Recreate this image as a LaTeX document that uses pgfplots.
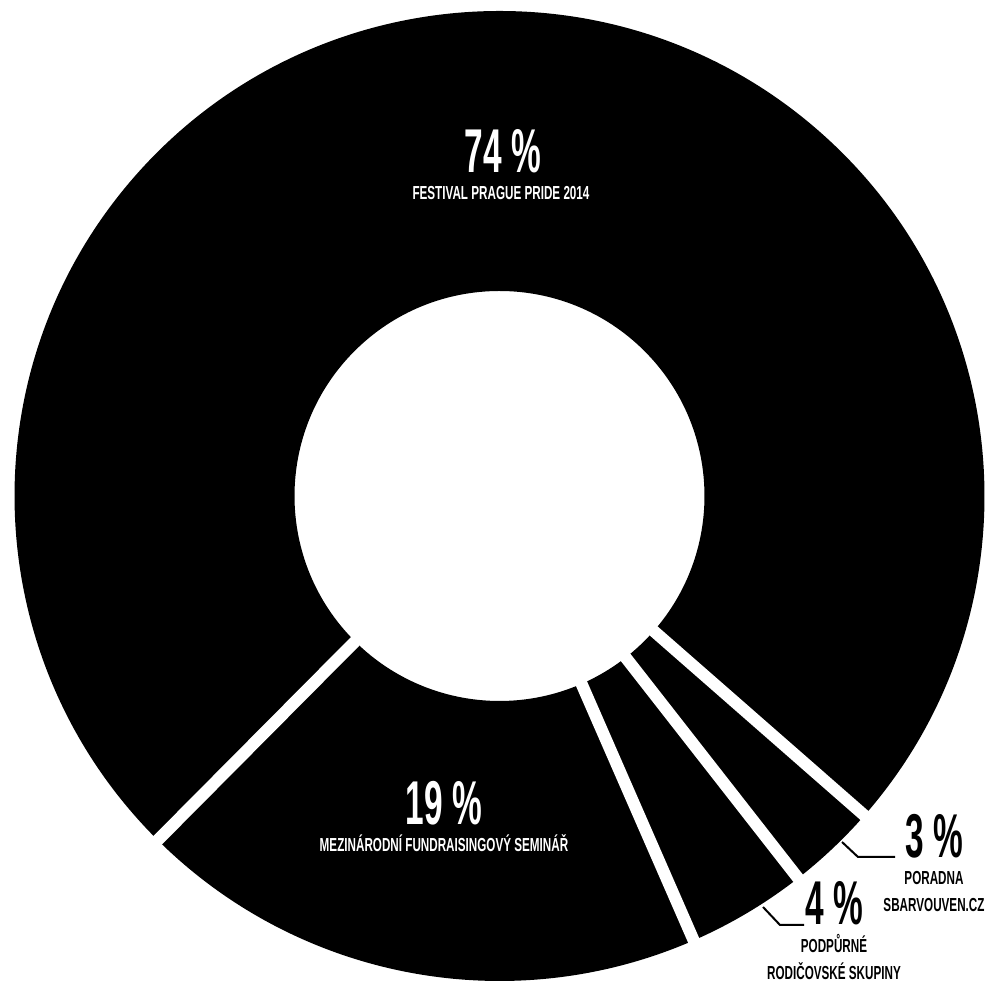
\documentclass[border=0pt]{standalone}
\usepackage{pgfplots}
\pgfplotsset{compat=1.18}
\usepackage{fontspec}
\setmainfont{Liberation Sans}
\newfontfamily\numfont[FakeStretch=0.54]{Liberation Sans}
\newfontfamily\labfont[FakeStretch=0.62]{Liberation Sans}
\newcommand\bignum{\numfont\bfseries\fontsize{44}{44}\selectfont}
\newcommand\lab{\labfont\bfseries\fontsize{13.4}{14}\selectfont}
\begin{document}
\begin{tikzpicture}
\begin{axis}[hide axis, scale only axis, clip=false,
    x=0.25mm, y=0.25mm, xmin=0, xmax=985, ymin=0, ymax=983]
  \path (axis cs:0,0) rectangle (axis cs:985,983);
  % centre and radii in axis units
  \def\cx{499.5}\def\cy{487}
  % slices: 74, 19, 4, 3 (percent), counter-clockwise from -41.2 deg
  \xdef\acc{-41.2}
  \foreach \v in {74,19,4,3} {
    \pgfmathsetmacro\a{\acc}
    \pgfmathsetmacro\b{\acc+3.6*\v}
    \edef\temp{\noexpand\fill[black, overlay]
      (axis cs:{\cx+485*cos(\a)},{\cy+485*sin(\a)})
      arc[start angle=\a, end angle=\b, radius=121.25mm]
      -- (axis cs:{\cx+205*cos(\b)},{\cy+205*sin(\b)})
      arc[start angle=\b, end angle=\a, radius=51.25mm] -- cycle;}
    \temp
    \xdef\acc{\b}
  }
  % white gaps between slices
  \xdef\acc{-41.2}
  \foreach \v in {74,19,4,3} {
    \pgfmathsetmacro\a{\acc}
    \edef\temp{\noexpand\draw[white, line width=3mm, overlay]
      (axis cs:{\cx+195*cos(\a)},{\cy+195*sin(\a)})
      -- (axis cs:{\cx+492*cos(\a)},{\cy+492*sin(\a)});}
    \temp
    \pgfmathsetmacro\b{\acc+3.6*\v}
    \xdef\acc{\b}
  }
  % labels
  \begin{scope}[overlay]
  \node[white, anchor=base] at (axis cs:503,810) {\bignum 74 \%};
  \node[white, anchor=base] at (axis cs:501,783) {\lab FESTIVAL PRAGUE PRIDE 2014};
  \node[white, anchor=base] at (axis cs:444,158) {\bignum 19 \%};
  \node[white, anchor=base] at (axis cs:444,131) {\lab MEZINÁRODNÍ FUNDRAISINGOVÝ SEMINÁŘ};
  \node[black, anchor=base] at (axis cs:934,125) {\bignum 3 \%};
  \node[black, anchor=base] at (axis cs:934,98) {\lab PORADNA};
  \node[black, anchor=base] at (axis cs:934,71) {\lab SBARVOUVEN.CZ};
  \node[black, anchor=base] at (axis cs:834,58) {\bignum 4 \%};
  \node[black, anchor=base] at (axis cs:834,30) {\lab PODPŮRNÉ};
  \node[black, anchor=base] at (axis cs:834,3) {\lab RODIČOVSKÉ SKUPINY};
  % leader lines
  \draw[black, line width=0.5mm] (axis cs:842,141) -- (axis cs:858,126) -- (axis cs:895,126);
  \draw[black, line width=0.5mm] (axis cs:763,76) -- (axis cs:780,58) -- (axis cs:804,58);
  \end{scope}
\end{axis}
\end{tikzpicture}
\end{document}
